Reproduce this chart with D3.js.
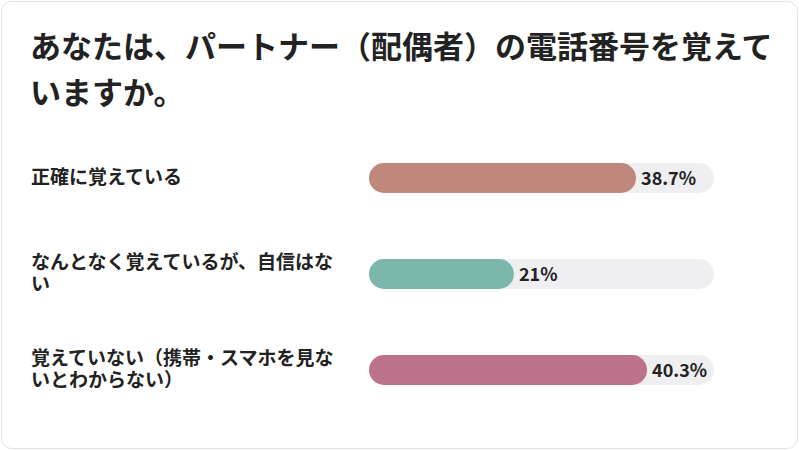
<!DOCTYPE html>
<html><head><meta charset="utf-8">
<script src="https://cdn.jsdelivr.net/npm/d3@7"></script>
<style>body{margin:0;background:#fff;font-family:"Noto Sans CJK JP","Noto Sans",sans-serif}</style>
</head><body><svg id="chart" width="799" height="450"></svg>
<script>
var categories = [["正確に覚えている"], ["なんとなく覚えているが、自信はな", "い"], ["覚えていない（携帯・スマホを見な", "いとわからない）"]];
var values = [38.7, 21, 40.3];
var labels = ["38.7%", "21%", "40.3%"];
var colors = ["#c0877c", "#7bb8ab", "#bd738b"];

var svg = d3.select("#chart");
svg.append("rect").attr("x", 1.5).attr("y", 1.5).attr("width", 796).attr("height", 447)
  .attr("rx", 10).attr("fill", "#fff").attr("stroke", "#e2e2e2");

var title = ["あなたは、パートナー（配偶者）の電話番号を覚えて", "いますか。"];
svg.selectAll("text.title").data(title).enter().append("text")
  .attr("x", 30).attr("y", function(d, i) { return 58 + i * 46; })
  .attr("font-size", 31).attr("font-weight", "bold").attr("fill", "#222").text(function(d) { return d; });

var x = d3.scaleLinear().domain([0, 50]).range([369, 714]);
var y = d3.scaleBand().domain(d3.range(3)).range([130, 418]).paddingInner(0.6875).paddingOuter(0.34375);
var h = y.bandwidth();

var g = svg.selectAll("g.row").data(values).enter().append("g");
g.append("rect").attr("x", x(0)).attr("y", function(d, i) { return y(i); })
  .attr("width", x(50) - x(0)).attr("height", h).attr("rx", h / 2).attr("fill", "#efeff1");
g.append("rect").attr("x", x(0)).attr("y", function(d, i) { return y(i); })
  .attr("width", function(d) { return x(d) - x(0); }).attr("height", h).attr("rx", h / 2)
  .attr("fill", function(d, i) { return colors[i]; });
g.append("text").attr("x", function(d) { return x(d) + 5; })
  .attr("y", function(d, i) { return y(i) + h / 2 + 7; })
  .attr("font-size", 18).attr("font-weight", "bold").attr("fill", "#222")
  .text(function(d, i) { return labels[i]; });

g.each(function(d, i) {
  var lines = categories[i];
  var cy = y(i) + h / 2;
  d3.select(this).selectAll("text.cat").data(lines).enter().append("text")
    .attr("x", 31).attr("y", function(t, j) { return cy + 6 - (lines.length - 1) * 11 + j * 22; })
    .attr("font-size", 19).attr("font-weight", "bold").attr("fill", "#222").text(function(t) { return t; });
});
</script></body></html>
